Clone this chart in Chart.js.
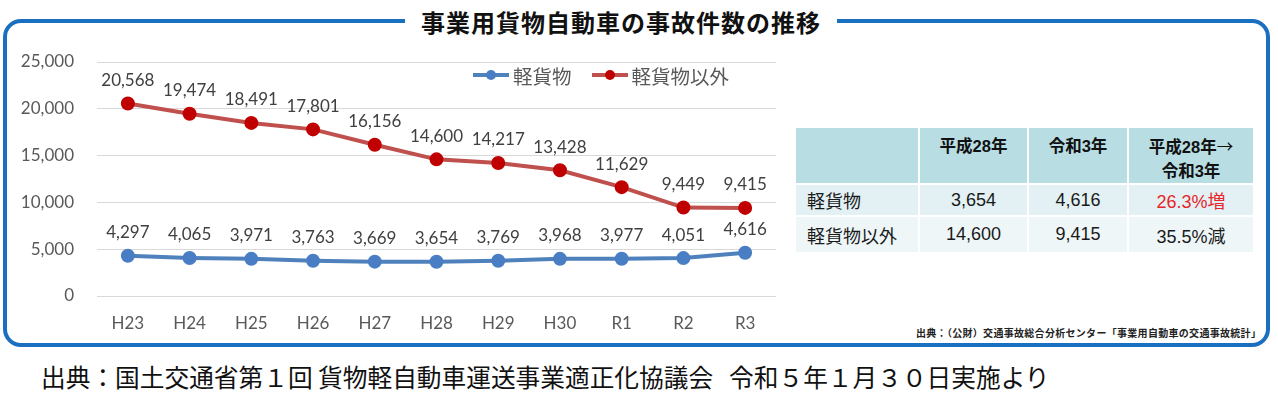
<!DOCTYPE html>
<html lang="ja">
<head>
<meta charset="utf-8">
<script src="https://cdn.jsdelivr.net/npm/chart.js@4.4.1/dist/chart.umd.min.js"></script>
<style>
  html, body { margin: 0; padding: 0; background: #fff; }
  body { width: 1278px; height: 394px; position: relative; overflow: hidden; font-family: "Noto Sans CJK JP", sans-serif; }
  #frame {
    position: absolute; left: 3px; top: 19px; width: 1267px; height: 328px;
    box-sizing: border-box; border: 4px solid #1b6fc1; border-radius: 18px;
  }
  #title {
    position: absolute; left: 405px; top: 6px; width: 432px; height: 32px; line-height: 32px;
    background: #fff; text-align: center; font-size: 24px; font-weight: bold; color: #111;
    letter-spacing: 1px;
  }
  #chart { position: absolute; left: 0; top: 40px; }
  #legend {
    position: absolute; left: 473px; top: 62px; height: 26px; display: flex; align-items: center;
    font-size: 19.5px; color: #595959;
  }
  .lg-item { display: flex; align-items: center; margin-right: 20px; }
  .lg-mark { position: relative; width: 36px; height: 4px; margin-right: 4px; }
  .lg-dot { position: absolute; left: 13px; top: -3px; width: 10px; height: 10px; border-radius: 50%; }
  #tbl {
    position: absolute; left: 794px; top: 126px; border-collapse: separate; border-spacing: 2px;
    font-family: "Liberation Sans", "Noto Sans CJK JP", sans-serif; color: #1a1a1a;
  }
  #tbl th {
    background: #b8dee4; font-size: 16.5px; font-weight: bold; height: 55px; padding: 6px 0 0 0;
    vertical-align: top; line-height: 24px; color: #111; box-sizing: border-box;
  }
  #tbl th .arr { font-family: "Noto Sans CJK JP", sans-serif; font-weight: normal; }
  #tbl td { font-size: 18px; text-align: center; padding: 0; }
  #tbl tr.r1 td { background: #e3f1f4; height: 30px; }
  #tbl tr.r2 td { background: #eef6f8; height: 35px; }
  #tbl td.name { text-align: left; padding-left: 11px; }
  #tbl td.up { color: #e6262b; }
  #src {
    position: absolute; left: 916px; top: 325px; font-size: 10px; font-weight: bold; color: #222;
    white-space: nowrap; letter-spacing: 0.3px;
  }
  #foot {
    position: absolute; left: 41px; top: 360px; font-size: 24.7px; line-height: 32px; color: #111;
    white-space: nowrap;
  }
  #foot .gap { margin-left: 16px; }
</style>
</head>
<body>
<div id="frame"></div>
<div id="title">事業用貨物自動車の事故件数の推移</div>
<canvas id="chart" width="790" height="305"></canvas>
<div id="legend"></div>
<table id="tbl"></table>
<div id="src">出典：（公財）交通事故総合分析センター「事業用自動車の交通事故統計」</div>
<div id="foot">出典：国土交通省第１回 貨物軽自動車運送事業適正化協議会<span class="gap">令和５年１月３０日実施より</span></div>
<script>
// 年度
const categories = ['H23', 'H24', 'H25', 'H26', 'H27', 'H28', 'H29', 'H30', 'R1', 'R2', 'R3'];
const seriesNames = ['軽貨物', '軽貨物以外'];
// 事故件数
const keiKamotsu = [4297, 4065, 3971, 3763, 3669, 3654, 3769, 3968, 3977, 4051, 4616];
const keiIgai = [20568, 19474, 18491, 17801, 16156, 14600, 14217, 13428, 11629, 9449, 9415];
const yTicks = [0, 5000, 10000, 15000, 20000, 25000];

// 右の表
const tableHead = ['', '平成28年', '令和3年', '平成28年<span class="arr">→</span><br>令和3年'];
const tableRows = [
    ['軽貨物', '3,654', '4,616', '26.3%増'],
    ['軽貨物以外', '14,600', '9,415', '35.5%減']
];
const colWidths = [122, 107, 98, 124];

function buildTable() {
    const tbl = document.getElementById('tbl');
    let html = '<tr>' + tableHead.map((h, i) => `<th style="width:${colWidths[i]}px">${h}</th>`).join('') + '</tr>';
    tableRows.forEach((row, r) => {
        html += `<tr class="r${r + 1}">` + row.map((c, i) => {
            let cls = i === 0 ? 'name' : '';
            if (c.indexOf('増') >= 0) cls = 'up';
            return `<td class="${cls}">${c}</td>`;
        }).join('') + '</tr>';
    });
    tbl.innerHTML = html;
}

const fmt = v => v.toLocaleString('en-US');

const dataLabels = {
    id: 'dataLabels',
    afterDatasetsDraw(chart) {
        const ctx = chart.ctx;
        ctx.save();
        ctx.font = '17px Lato, "Noto Sans", sans-serif';
        ctx.fillStyle = '#404040';
        ctx.textAlign = 'center';
        ctx.textBaseline = 'middle';
        chart.data.datasets.forEach((ds, i) => {
            chart.getDatasetMeta(i).data.forEach((pt, j) => {
                ctx.fillText(fmt(ds.data[j]), pt.x, pt.y - 23);
            });
        });
        ctx.restore();
    }
};

const htmlLegend = {
    id: 'htmlLegend',
    afterUpdate(chart) {
        const box = document.getElementById('legend');
        box.innerHTML = '';
        chart.data.datasets.forEach(ds => {
            const item = document.createElement('div');
            item.className = 'lg-item';
            item.innerHTML = `<span class="lg-mark" style="background:${ds.borderColor}">` +
                `<span class="lg-dot" style="background:${ds.pointBackgroundColor}"></span></span>` +
                `<span>${ds.label}</span>`;
            box.appendChild(item);
        });
    }
};

function drawChart() {
    const ctx = document.getElementById('chart').getContext('2d');
    new Chart(ctx, {
        type: 'line',
        data: {
            labels: categories,
            datasets: [{
                label: seriesNames[0],
                data: keiKamotsu,
                borderColor: '#4f81bd',
                pointBackgroundColor: '#4a7ec4',
                pointBorderColor: '#4a7ec4',
                borderWidth: 4,
                pointRadius: 5,
                tension: 0
            }, {
                label: seriesNames[1],
                data: keiIgai,
                borderColor: '#c0504d',
                pointBackgroundColor: '#c00000',
                pointBorderColor: '#c00000',
                borderWidth: 4,
                pointRadius: 5,
                tension: 0
            }]
        },
        options: {
            responsive: false,
            animation: false,
            layout: { autoPadding: false, padding: { top: 22, right: 14, left: 0, bottom: 0 } },
            plugins: {
                legend: { display: false },
                tooltip: { enabled: false }
            },
            scales: {
                y: {
                    min: 0,
                    max: 25000,
                    afterBuildTicks: s => { s.ticks = yTicks.map(v => ({ value: v })); },
                    afterFit: s => {
                        s.width = 97;
                        s.paddingTop = 0;
                        s.paddingBottom = 0;
                    },
                    border: { display: false },
                    grid: { color: '#d9d9d9', drawTicks: false },
                    ticks: {
                        padding: 23,
                        color: '#595959',
                        font: { family: 'Lato, "Noto Sans", sans-serif', size: 17 },
                        callback: v => fmt(v)
                    }
                },
                x: {
                    offset: true,
                    afterFit: s => { s.height = 49; },
                    border: { display: false },
                    grid: { display: false, drawTicks: false, offset: true },
                    ticks: {
                        padding: 17,
                        color: '#595959',
                        font: { family: 'Lato, "Noto Sans", sans-serif', size: 17 }
                    }
                }
            }
        },
        plugins: [dataLabels, htmlLegend]
    });
}

buildTable();
drawChart();
</script>
</body>
</html>
